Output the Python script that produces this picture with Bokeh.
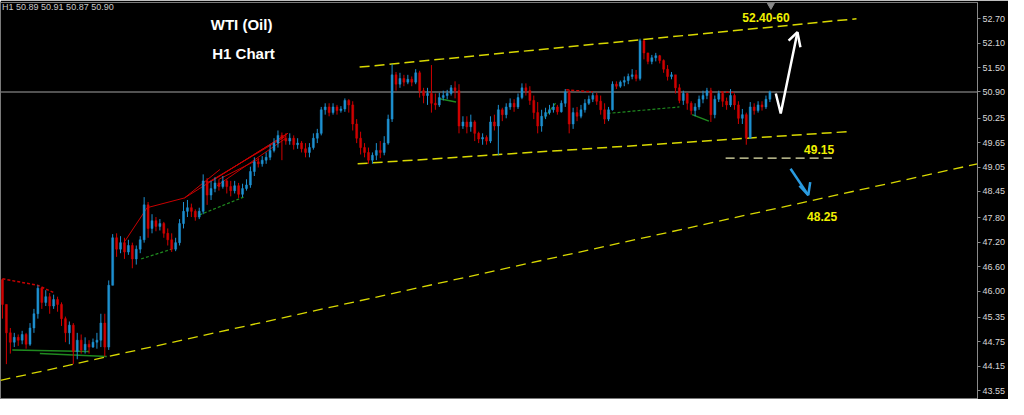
from bokeh.plotting import figure
from bokeh.models import Range1d, FixedTicker, NumeralTickFormatter, Label, ColumnDataSource
from bokeh.embed import file_html
from bokeh.resources import INLINE

# ---------------- data (WTI, H1 candles) ----------------
first_open = 46.28
close = [45.67, 44.97, 44.74, 44.86, 44.79, 44.93, 44.69, 45.09, 45.44, 46.07,
         45.72, 45.86, 45.63, 45.79, 45.67, 45.32, 44.97, 45.16, 44.51, 44.79,
         44.55, 44.69, 44.62, 44.74, 44.79, 45.21, 44.62, 46.14, 47.31, 47.03,
         47.19, 46.96, 47.12, 46.79, 47.03, 47.26, 48.12, 47.54, 47.73, 47.59,
         47.66, 47.42, 47.26, 47.03, 47.19, 47.66, 47.96, 48.05, 47.96, 47.82,
         47.96, 48.71, 48.36, 48.52, 48.66, 48.57, 48.71, 48.57, 48.47, 48.59,
         48.38, 48.52, 48.61, 48.94, 49.18, 49.13, 49.22, 49.29, 49.46, 49.64,
         49.83, 49.76, 49.69, 49.76, 49.60, 49.64, 49.50, 49.41, 49.53, 49.76,
         49.88, 50.46, 50.53, 50.39, 50.53, 50.44, 50.48, 50.69, 50.58, 50.11,
         49.76, 49.53, 49.41, 49.22, 49.34, 49.46, 49.41, 49.64, 50.23, 51.32,
         51.09, 51.23, 51.14, 51.21, 51.14, 51.37, 50.93, 50.81, 50.86, 50.62,
         50.58, 50.76, 50.81, 50.86, 51.00, 50.93, 50.06, 50.16, 50.04, 50.16,
         49.88, 49.74, 49.78, 49.69, 50.16, 50.06, 50.46, 50.34, 50.53, 50.62,
         50.53, 50.76, 51.00, 50.93, 50.69, 50.39, 50.06, 50.30, 50.39, 50.46,
         50.53, 50.41, 50.62, 50.90, 50.11, 50.39, 50.30, 50.46, 50.62, 50.72,
         50.81, 50.67, 50.46, 50.23, 50.46, 51.09, 51.04, 51.14, 51.18, 51.28,
         51.32, 51.23, 52.16, 51.86, 51.65, 51.74, 51.79, 51.67, 51.46, 51.28,
         51.32, 51.00, 50.69, 50.86, 50.62, 50.44, 50.53, 50.72, 50.81, 50.93,
         50.34, 50.72, 50.86, 50.67, 50.58, 50.81, 50.58, 50.25, 50.34, 49.76,
         50.53, 50.44, 50.58, 50.53, 50.72, 50.90]
high = [46.30, 45.67, 45.09, 44.97, 44.93, 45.02, 44.97, 45.21, 45.56, 46.14,
        46.09, 46.02, 45.95, 45.91, 45.86, 45.72, 45.37, 45.25, 45.21, 44.97,
        44.93, 44.86, 44.79, 44.83, 44.97, 45.44, 45.44, 46.26, 47.40, 47.42,
        47.35, 47.31, 47.26, 47.19, 47.12, 47.35, 48.31, 48.19, 47.89, 47.82,
        47.77, 47.70, 47.54, 47.42, 47.31, 47.77, 48.19, 48.24, 48.15, 48.01,
        48.05, 48.87, 48.78, 48.71, 48.80, 48.75, 48.83, 48.75, 48.71, 48.71,
        48.66, 48.64, 48.75, 49.06, 49.29, 49.27, 49.32, 49.41, 49.60, 49.76,
        49.95, 49.90, 49.88, 49.88, 49.83, 49.76, 49.69, 49.64, 49.64, 49.88,
        49.99, 50.53, 50.62, 50.62, 50.62, 50.58, 50.55, 50.74, 50.72, 50.67,
        50.23, 49.92, 49.64, 49.53, 49.41, 49.64, 49.69, 49.81, 50.34, 51.58,
        51.39, 51.37, 51.32, 51.32, 51.28, 51.46, 51.42, 51.00, 51.00, 51.56,
        50.86, 50.88, 50.93, 50.95, 51.07, 51.16, 51.09, 50.30, 50.30, 50.34,
        50.20, 49.92, 49.88, 49.83, 50.30, 50.34, 50.58, 50.51, 50.62, 50.74,
        50.72, 50.86, 51.11, 51.11, 51.04, 50.81, 50.65, 50.46, 50.51, 50.58,
        50.62, 50.58, 50.69, 50.97, 50.95, 50.51, 50.53, 50.58, 50.72, 50.81,
        50.88, 50.88, 50.81, 50.62, 50.53, 51.16, 51.16, 51.18, 51.28, 51.35,
        51.46, 51.44, 52.21, 52.18, 51.86, 51.81, 51.86, 51.81, 51.70, 51.56,
        51.39, 51.28, 51.09, 50.93, 50.88, 50.67, 50.62, 50.81, 50.93, 51.00,
        51.00, 50.81, 50.93, 50.90, 50.76, 50.97, 50.86, 50.67, 50.48, 50.39,
        50.65, 50.62, 50.67, 50.67, 50.81, 50.93]
low = [45.32, 44.20, 44.46, 44.62, 44.65, 44.69, 44.58, 44.65, 44.97, 45.32,
       45.56, 45.63, 45.44, 45.56, 45.49, 45.14, 44.74, 44.69, 44.20, 44.32,
       44.46, 44.46, 44.46, 44.60, 44.58, 44.62, 44.39, 44.55, 46.14, 46.84,
       46.93, 46.79, 46.89, 46.56, 46.65, 46.93, 47.19, 47.31, 47.42, 47.47,
       47.49, 47.31, 47.12, 46.96, 46.98, 47.12, 47.54, 47.82, 47.82, 47.73,
       47.77, 47.89, 48.12, 48.24, 48.43, 48.47, 48.52, 48.40, 48.33, 48.40,
       48.29, 48.31, 48.47, 48.54, 48.83, 49.04, 49.06, 49.13, 49.22, 49.41,
       49.53, 49.22, 49.60, 49.60, 49.48, 49.50, 49.41, 49.29, 49.29, 49.48,
       49.64, 49.83, 50.34, 50.30, 50.34, 50.34, 50.39, 50.41, 50.39, 49.95,
       49.64, 49.36, 49.29, 49.13, 49.13, 49.22, 49.27, 49.34, 49.60, 50.16,
       50.93, 51.00, 51.04, 51.09, 51.04, 51.09, 50.76, 50.62, 50.58, 50.39,
       50.46, 50.53, 50.69, 50.72, 50.81, 50.74, 49.88, 49.99, 49.88, 49.92,
       49.69, 49.64, 49.60, 49.60, 49.64, 49.95, 49.34, 50.18, 50.25, 50.46,
       50.41, 50.48, 50.72, 50.81, 50.58, 50.23, 49.88, 49.92, 50.23, 50.34,
       50.39, 50.34, 50.39, 50.53, 49.88, 49.99, 50.18, 50.25, 50.39, 50.58,
       50.65, 50.58, 50.34, 50.11, 50.18, 50.44, 50.97, 51.00, 51.04, 51.09,
       51.21, 51.16, 51.18, 51.70, 51.58, 51.58, 51.65, 51.60, 51.37, 51.18,
       51.21, 50.86, 50.62, 50.58, 50.46, 50.34, 50.30, 50.46, 50.62, 50.72,
       50.16, 50.25, 50.65, 50.53, 50.46, 50.53, 50.46, 50.11, 50.11, 49.60,
       49.76, 50.34, 50.39, 50.44, 50.48, 50.65]

price_ticks = [52.70, 52.10, 51.50, 50.90, 50.25, 49.65, 49.05, 48.45,
               47.80, 47.20, 46.60, 46.00, 45.35, 44.75, 44.15, 43.55]
current_price = 50.90
info_text = "H1  50.89 50.91 50.87 50.90"

# trend lines (bar index, price)
upper_channel_x = [90.75, 217.0]
upper_channel_y = [51.51, 52.70]
lower_channel_x = [90.25, 214.5]
lower_channel_y = [49.13, 49.92]
long_trend_x = [-0.5, 247.75]
long_trend_y = [43.80, 49.13]
support_x = [183.75, 210.75]
support_y = [49.27, 49.27]

# indicator drawings
red_lines = [([31.0, 36.75], [47.21, 48.05]), ([36.75, 46.25], [48.05, 48.29]),
             ([46.25, 55.25], [48.29, 48.99]), ([46.25, 72.5], [48.29, 49.88]),
             ([53.25, 72.5], [48.71, 49.88]), ([54.5, 72.0], [48.59, 49.76]),
             ([55.0, 65.25], [48.75, 49.25]), ([52.0, 72.0], [48.66, 49.81])]
red_dotted = [([0.0, 9.0, 13.25], [46.30, 46.14, 45.95]),
              ([143.25, 150.0], [50.95, 50.90]), ([182.5, 186.25], [50.90, 50.88])]
green_solid = [([2.5, 22.0], [44.55, 44.51]), ([9.5, 26.5], [44.46, 44.39]),
               ([110.75, 115.25], [50.74, 50.65]), ([175.25, 179.5], [50.34, 50.18])]
green_dotted = [([35.25, 43.0], [46.79, 47.03]), ([50.0, 61.25], [47.87, 48.31]),
                ([137.75, 140.75], [50.27, 50.65]), ([153.75, 172.0], [50.37, 50.53])]

up_arrow_x = [196.5, 197.75, 202.0]
up_arrow_y = [50.86, 50.37, 52.37]
up_head_x = [199.75, 202.0, 202.75]
up_head_y = [52.16, 52.37, 52.00]
down_arrow_x = [200.25, 204.75]
down_arrow_y = [49.01, 48.36]
down_head_x = [202.5, 204.75, 205.25]
down_head_y = [48.59, 48.36, 48.68]

# ---------------- figure ----------------
idx = list(range(len(close)))
opens = [first_open] + close[:-1]
BLUE = "#1e90d0"
RED = "#d00000"
colors = [BLUE if c >= o else RED for o, c in zip(opens, close)]
src = ColumnDataSource(dict(
    x=idx, open=opens, close=close, high=high, low=low,
    top=[max(o, c) for o, c in zip(opens, close)],
    bottom=[min(o, c) for o, c in zip(opens, close)],
    color=colors))

p = figure(width=1008, height=399, output_backend="svg", toolbar_location=None,
           x_range=Range1d(-0.5, 247.75), y_range=Range1d(43.33, 53.10),
           y_axis_location="right", x_axis_location=None,
           min_border_left=0, min_border_top=2, min_border_bottom=0, min_border_right=0)
p.background_fill_color = "black"
p.border_fill_color = "black"
p.outline_line_color = "#7a7a7a"
p.grid.visible = False

ax = p.yaxis[0]
ax.ticker = FixedTicker(ticks=price_ticks)
ax.formatter = NumeralTickFormatter(format="0.00")
ax.axis_line_color = "#8a8a8a"
ax.major_tick_line_color = "#8a8a8a"
ax.major_tick_in = 0
ax.major_tick_out = 3
ax.minor_tick_line_color = None
ax.major_label_text_color = "#d8d8d8"
ax.major_label_text_font = "Liberation Sans"
ax.major_label_text_font_size = "9px"
ax.major_label_standoff = 2

# current price line
p.line([-0.5, 247.75], [current_price, current_price], line_color="#6e6e6e", line_width=1.5)

# trend lines
ycol = "#d8d800"
p.line(upper_channel_x, upper_channel_y, line_color=ycol, line_width=1.5, line_dash="10 5")
p.line(lower_channel_x, lower_channel_y, line_color=ycol, line_width=1.5, line_dash="10 5")
p.line(long_trend_x, long_trend_y, line_color=ycol, line_width=1.3, line_dash="10 6")
p.line(support_x, support_y, line_color="#e8e8b0", line_width=1.3, line_dash="9 5")

# indicator drawings
for xs, ys in red_lines:
    p.line(xs, ys, line_color="#c80000", line_width=1)
for xs, ys in red_dotted:
    p.line(xs, ys, line_color="#c80000", line_width=1.5, line_dash="3 2")
for xs, ys in green_solid:
    p.line(xs, ys, line_color="#1f8a1f", line_width=1.5)
for xs, ys in green_dotted:
    p.line(xs, ys, line_color="#1f8a1f", line_width=1.2, line_dash="3 2")

# candles
p.segment(x0="x", y0="low", x1="x", y1="high", color="color", line_width=1, source=src)
p.vbar(x="x", width=0.5, top="top", bottom="bottom", fill_color="color",
       line_color="color", line_width=0.5, source=src)

# arrows
p.line(up_arrow_x, up_arrow_y, line_color="white", line_width=2.5)
p.line(up_head_x, up_head_y, line_color="white", line_width=2.5)
p.line(down_arrow_x, down_arrow_y, line_color="#2a9be0", line_width=2.5)
p.line(down_head_x, down_head_y, line_color="#2a9be0", line_width=2.5)

# shift marker
p.scatter([195.25], [53.03], marker="inverted_triangle", size=7, color="#8a8a8a")

# texts
def lab(x, y, t, color, size, bold=True, align="center", font="Liberation Sans"):
    p.add_layout(Label(x=x, y=y, text=t, text_color=color, text_font=font,
                       text_font_size=size, text_font_style="bold" if bold else "normal",
                       text_align=align, text_baseline="middle"))

lab(60.75, 52.56, "WTI (Oil)", "white", "15px")
lab(61.25, 51.84, "H1 Chart", "white", "15px")
lab(194.0, 52.72, "52.40-60", "#f0f000", "12px")
lab(207.5, 49.48, "49.15", "#f0f000", "12px")
lab(208.25, 47.84, "48.25", "#f0f000", "12px")
lab(-0.1, 52.98, info_text, "#c8c8c8", "9px", bold=False, align="left")

open("out.html", "w").write(file_html(p, INLINE))
